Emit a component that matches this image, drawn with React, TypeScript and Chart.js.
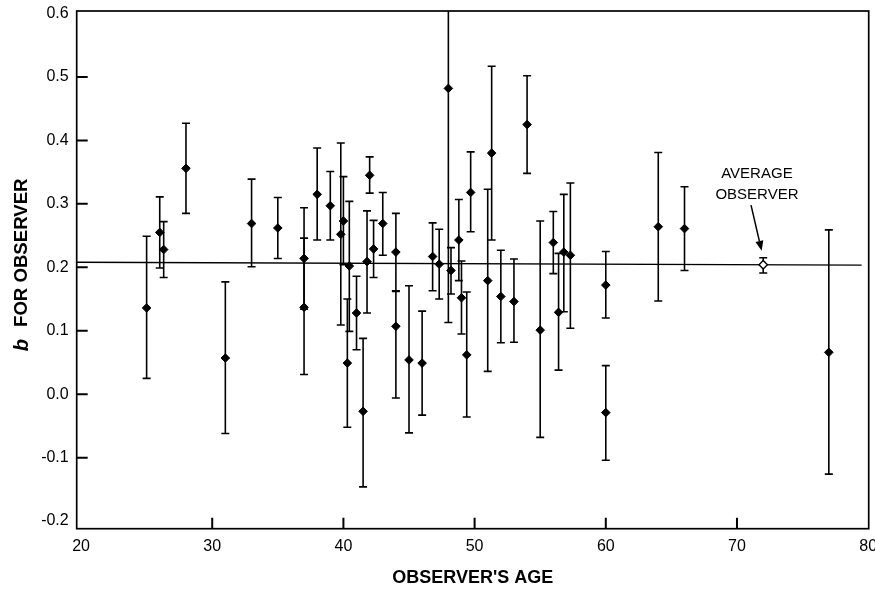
import React, { useEffect, useRef } from "react";
import { Chart, registerables } from "chart.js";

Chart.register(...registerables);

// ---- axis ----
const X_TICKS = [20, 30, 40, 50, 60, 70, 80];
const Y_TICKS = [-0.2, -0.1, 0, 0.1, 0.2, 0.3, 0.4, 0.5, 0.6];
const X_MIN = 19.67;
const X_MAX = 80.04;
const Y_MIN = -0.212;
const Y_MAX = 0.604;
const X_INNER_TICKS = [30, 40, 50, 60, 70];
const Y_INNER_TICKS = [-0.1, 0, 0.1, 0.2, 0.3, 0.4, 0.5];

// ---- observers ----
const ages = [
  25, 26, 26.3, 28, 31, 33, 35, 37, 37, 38, 39, 39.8, 40, 40.3, 40.45, 41, 41.5, 41.8,
  42, 42.3, 43, 44, 44, 45, 46, 46.8, 47.3, 48, 48.2, 48.8, 49, 49.4, 49.7, 51, 51.3,
  52, 53, 54, 55, 56, 56.4, 56.8, 57.3, 60, 60, 64, 66, 77,
];
const bValues = [
  0.136, 0.255, 0.228, 0.356, 0.057, 0.269, 0.262, 0.214, 0.137, 0.315, 0.297, 0.252,
  0.273, 0.049, 0.202, 0.128, -0.027, 0.209, 0.345, 0.229, 0.269, 0.224, 0.107, 0.054,
  0.049, 0.217, 0.205, 0.482, 0.195, 0.243, 0.152, 0.062, 0.318, 0.179, 0.38, 0.154,
  0.146, 0.425, 0.101, 0.239, 0.129, 0.224, 0.219, 0.172, -0.029, 0.264, 0.261, 0.066,
];
const bLow = [
  0.025, 0.199, 0.184, 0.285, -0.062, 0.201, 0.214, 0.134, 0.031, 0.243, 0.243, 0.109,
  0.204, -0.052, 0.099, 0.07, -0.146, 0.128, 0.317, 0.184, 0.219, 0.163, -0.006, -0.061,
  -0.033, 0.163, 0.15, 0.113, 0.158, 0.179, 0.095, -0.036, 0.256, 0.036, 0.243, 0.081,
  0.082, 0.348, -0.068, 0.19, 0.038, 0.13, 0.104, 0.12, -0.104, 0.147, 0.195, -0.126,
];
const bHigh = [
  0.249, 0.311, 0.272, 0.427, 0.177, 0.339, 0.31, 0.294, 0.246, 0.388, 0.351, 0.396,
  0.343, 0.15, 0.304, 0.186, 0.088, 0.289, 0.374, 0.274, 0.318, 0.285, 0.162, 0.171,
  0.131, 0.27, 0.26, 0.85, 0.231, 0.307, 0.21, 0.161, 0.382, 0.323, 0.517, 0.227,
  0.213, 0.502, 0.273, 0.288, 0.222, 0.315, 0.333, 0.225, 0.045, 0.381, 0.327, 0.259,
];

// ---- average observer ----
const avgAge = [72];
const avgB = [0.204];
const avgLow = [0.191];
const avgHigh = [0.215];

// ---- fitted line ----
const fitX = [19.67, 79.5];
const fitY = [0.208, 0.2035];

// ---- annotation ----
const annotationLines = ["AVERAGE", "OBSERVER"];
const annotationX = 71.52;
const annotationY = [0.347, 0.314];
const arrowFrom = { x: 71.07, y: 0.298 };
const arrowTo = { x: 71.88, y: 0.226 };

const FONT = "'Liberation Sans', Arial, Helvetica, sans-serif";

const errorBarPlugin = {
  id: "errorBars",
  beforeDatasetsDraw(chart: any) {
    const { ctx, chartArea, scales } = chart;
    const xs = scales.x;
    const ys = scales.y;
    ctx.save();
    ctx.beginPath();
    ctx.rect(chartArea.left, chartArea.top, chartArea.right - chartArea.left, chartArea.bottom - chartArea.top);
    ctx.clip();
    ctx.strokeStyle = "#000";
    ctx.lineWidth = 1.6;
    const cap = 4;
    const drawBar = (x: number, lo: number, hi: number) => {
      const px = xs.getPixelForValue(x);
      const pLo = ys.getPixelForValue(lo);
      const pHi = ys.getPixelForValue(hi);
      ctx.beginPath();
      ctx.moveTo(px, pLo);
      ctx.lineTo(px, pHi);
      ctx.moveTo(px - cap, pLo);
      ctx.lineTo(px + cap, pLo);
      ctx.moveTo(px - cap, pHi);
      ctx.lineTo(px + cap, pHi);
      ctx.stroke();
    };
    ages.forEach((a, i) => drawBar(a, bLow[i], bHigh[i]));
    avgAge.forEach((a, i) => drawBar(a, avgLow[i], avgHigh[i]));
    ctx.restore();
  },
};

const framePlugin = {
  id: "frame",
  afterDraw(chart: any) {
    const { ctx, chartArea, scales } = chart;
    const xs = scales.x;
    const ys = scales.y;
    ctx.save();
    ctx.strokeStyle = "#000";
    // frame
    ctx.lineWidth = 1.7;
    ctx.strokeRect(chartArea.left, chartArea.top, chartArea.right - chartArea.left, chartArea.bottom - chartArea.top);
    // inner ticks
    ctx.lineWidth = 2;
    ctx.beginPath();
    X_INNER_TICKS.forEach((v) => {
      const px = xs.getPixelForValue(v);
      ctx.moveTo(px, chartArea.bottom);
      ctx.lineTo(px, chartArea.bottom - 11);
    });
    Y_INNER_TICKS.forEach((v) => {
      const py = ys.getPixelForValue(v);
      ctx.moveTo(chartArea.left, py);
      ctx.lineTo(chartArea.left + 11, py);
    });
    ctx.stroke();

    // annotation text
    ctx.fillStyle = "#000";
    ctx.font = `15px ${FONT}`;
    ctx.textAlign = "center";
    ctx.textBaseline = "middle";
    annotationLines.forEach((t, i) => {
      ctx.fillText(t, xs.getPixelForValue(annotationX), ys.getPixelForValue(annotationY[i]));
    });
    // arrow
    const x1 = xs.getPixelForValue(arrowFrom.x);
    const y1 = ys.getPixelForValue(arrowFrom.y);
    const x2 = xs.getPixelForValue(arrowTo.x);
    const y2 = ys.getPixelForValue(arrowTo.y);
    const ang = Math.atan2(y2 - y1, x2 - x1);
    const head = 10;
    const hw = 4;
    const bx = x2 - head * Math.cos(ang);
    const by = y2 - head * Math.sin(ang);
    ctx.lineWidth = 1.5;
    ctx.beginPath();
    ctx.moveTo(x1, y1);
    ctx.lineTo(bx, by);
    ctx.stroke();
    ctx.beginPath();
    ctx.moveTo(x2, y2);
    ctx.lineTo(bx + hw * Math.sin(ang), by - hw * Math.cos(ang));
    ctx.lineTo(bx - hw * Math.sin(ang), by + hw * Math.cos(ang));
    ctx.closePath();
    ctx.fill();

    // y axis title: italic bold "b" + "FOR OBSERVER"
    const italicFont = `italic bold 20px ${FONT}`;
    const boldFont = `bold 18.6px ${FONT}`;
    const main = "FOR OBSERVER";
    ctx.font = italicFont;
    const wb = ctx.measureText("b").width;
    ctx.font = boldFont;
    const wm = ctx.measureText(main).width;
    const gap = 12;
    const total = wb + gap + wm;
    const cy = (chartArea.top + chartArea.bottom) / 2;
    ctx.translate(22, cy - 5);
    ctx.rotate(-Math.PI / 2);
    ctx.textAlign = "left";
    ctx.textBaseline = "middle";
    ctx.font = italicFont;
    ctx.fillText("b", -total / 2, 0);
    ctx.font = boldFont;
    ctx.fillText(main, -total / 2 + wb + gap, 0);
    ctx.restore();
  },
};

export default function App() {
  const canvasRef = useRef<HTMLCanvasElement | null>(null);

  useEffect(() => {
    if (!canvasRef.current) return;
    Chart.defaults.font.family = FONT;
    Chart.defaults.color = "#000";
    const chart = new Chart(canvasRef.current, {
      type: "scatter",
      data: {
        datasets: [
          {
            label: "Observers",
            data: ages.map((a, i) => ({ x: a, y: bValues[i] })),
            pointStyle: "rectRot",
            pointRadius: 4.3,
            backgroundColor: "#000",
            borderColor: "#000",
            borderWidth: 1,
            order: 2,
          },
          {
            label: "Average observer",
            data: avgAge.map((a, i) => ({ x: a, y: avgB[i] })),
            pointStyle: "rectRot",
            pointRadius: 4.2,
            backgroundColor: "#fff",
            borderColor: "#000",
            borderWidth: 1.4,
            order: 1,
          },
          {
            label: "Fit",
            data: fitX.map((x, i) => ({ x, y: fitY[i] })),
            showLine: true,
            pointRadius: 0,
            borderColor: "#000",
            borderWidth: 1.4,
            order: 3,
          } as any,
        ],
      },
      options: {
        responsive: false,
        animation: false,
        layout: { padding: { top: 11, right: 6.3, bottom: 0, left: 0 } },
        plugins: {
          legend: { display: false },
          tooltip: { enabled: false },
        },
        scales: {
          x: {
            type: "linear",
            min: X_MIN,
            max: X_MAX,
            grid: { display: false, drawTicks: false },
            border: { display: false },
            afterBuildTicks: (scale: any) => {
              scale.ticks = X_TICKS.map((v) => ({ value: v }));
            },
            afterFit: (scale: any) => {
              scale.height = 61.3;
              scale.paddingLeft = 0;
              scale.paddingRight = 0;
            },
            ticks: {
              padding: 8,
              font: { size: 16 },
              color: "#000",
              maxRotation: 0,
              autoSkip: false,
              callback: (v: any) => String(v),
            },
            title: {
              display: true,
              text: "OBSERVER'S AGE",
              font: { size: 18, weight: "bold" },
              color: "#000",
              padding: { top: 0, bottom: 1.5 },
            },
          },
          y: {
            type: "linear",
            min: Y_MIN,
            max: Y_MAX,
            grid: { display: false, drawTicks: false },
            border: { display: false },
            afterBuildTicks: (scale: any) => {
              scale.ticks = Y_TICKS.map((v) => ({ value: v }));
            },
            afterFit: (scale: any) => {
              scale.width = 76.7;
              scale.paddingTop = 0;
              scale.paddingBottom = 0;
            },
            ticks: {
              padding: 8,
              font: { size: 16 },
              color: "#000",
              autoSkip: false,
              callback: (v: any) => Number(v).toFixed(1),
            },
          },
        },
      },
      plugins: [errorBarPlugin, framePlugin],
    });
    return () => chart.destroy();
  }, []);

  return (
    <div style={{ position: "fixed", left: 0, top: 0, width: 875, height: 590, background: "#fff" }}>
      <canvas ref={canvasRef} width={875} height={590} style={{ display: "block" }} />
    </div>
  );
}
